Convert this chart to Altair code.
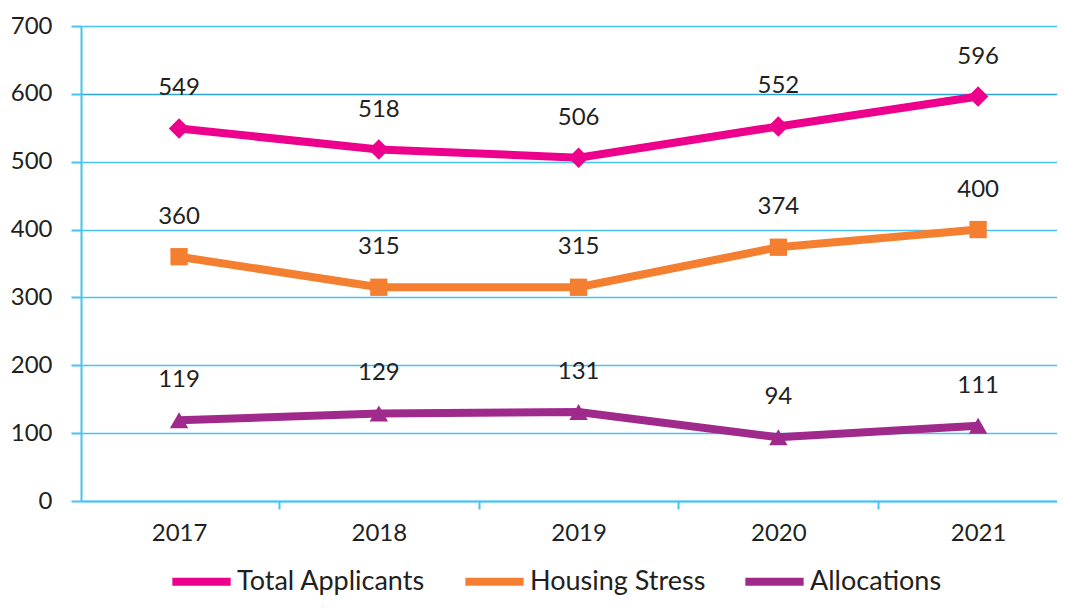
import altair as alt
import pandas as pd

years = [2017, 2018, 2019, 2020, 2021]
series = ["Total Applicants", "Housing Stress", "Allocations"]
total = [549, 518, 506, 552, 596]
stress = [360, 315, 315, 374, 400]
alloc = [119, 129, 131, 94, 111]
colors = ["#EC008C", "#F47F30", "#A02A8C"]
shapes = ["diamond", "square", "triangle-up"]
shape_sizes = [420, 300, 340]
x_ticks = [2016.5, 2017, 2017.5, 2018, 2018.5, 2019, 2019.5, 2020, 2020.5, 2021]
y_ticks = [0, 100, 200, 300, 400, 500, 600, 700]

rows = []
for s, vals in zip(series, [total, stress, alloc]):
    for yr, v in zip(years, vals):
        rows.append({"year": yr, "series": s, "value": v})
df = pd.DataFrame(rows)

FONT = "Lato"
TXT = "#231F20"
GRID = "#45C3F2"

xscale = alt.Scale(domain=[2016.509, 2021.395], nice=False, zero=False)
yscale = alt.Scale(domain=[0, 700], nice=False)

xaxis = alt.Axis(
    values=x_ticks,
    labelExpr="datum.value % 1 === 0 ? format(datum.value, 'd') : ''",
    tickOpacity={"condition": {"test": "datum.value % 1 === 0", "value": 0}, "value": 1},
    tickSize=8, tickWidth=2, tickColor=GRID,
    domain=True, domainColor=GRID, domainWidth=2,
    grid=False, title=None,
    labelFont=FONT, labelFontSize=24, labelColor=TXT, labelPadding=12,
    labelBaseline="top",
)
yaxis = alt.Axis(
    values=y_ticks, format="d",
    tickSize=10, tickWidth=2, tickColor=GRID,
    domain=True, domainColor=GRID, domainWidth=2,
    grid=True, gridWidth=1.6,
    gridColor={"condition": {"test": "datum.value === 600", "value": "#2AA6DC"}, "value": GRID},
    title=None,
    labelFont=FONT, labelFontSize=24, labelColor=TXT, labelPadding=19,
)

base = alt.Chart(df)

lines = base.mark_line(strokeWidth=8).encode(
    x=alt.X("year:Q", scale=xscale, axis=xaxis),
    y=alt.Y("value:Q", scale=yscale, axis=yaxis),
    color=alt.Color(
        "series:N",
        scale=alt.Scale(domain=series, range=colors),
        sort=series,
        legend=alt.Legend(
            title=None, orient="none", direction="horizontal",
            legendX=87, legendY=522,
            symbolType="stroke", symbolStrokeWidth=8, symbolSize=3400,
            labelFont=FONT, labelFontSize=27, labelColor=TXT,
            labelOffset=2, columnPadding=23, labelLimit=400,
        ),
    ),
    detail="series:N",
)

layers = [lines]
for s, c, sh, sz in zip(series, colors, shapes, shape_sizes):
    pts = base.transform_filter(alt.datum.series == s).mark_point(
        filled=True, opacity=1, shape=sh, size=sz, color=c
    ).encode(
        x=alt.X("year:Q", scale=xscale),
        y=alt.Y("value:Q", scale=yscale),
    )
    layers.append(pts)

labels = base.mark_text(dy=-40, fontSize=24, font=FONT, color=TXT).encode(
    x=alt.X("year:Q", scale=xscale),
    y=alt.Y("value:Q", scale=yscale),
    text=alt.Text("value:Q", format="d"),
)
layers.append(labels)

chart = alt.layer(*layers).properties(
    width=976, height=475,
    autosize=alt.AutoSizeParams(type="none"),
    padding={"left": 73, "top": 18, "right": 0, "bottom": 99},
).configure_view(stroke=None)

chart.save("out.html", embed_options={"renderer": "svg", "actions": False})
